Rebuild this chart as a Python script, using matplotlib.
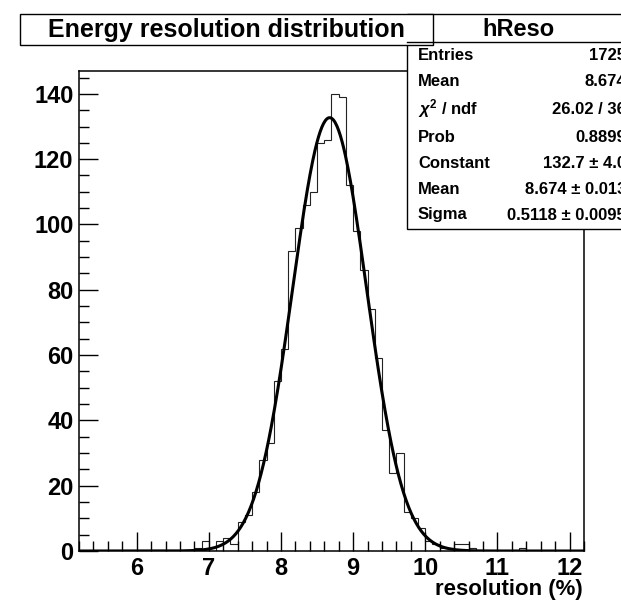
import numpy as np
import matplotlib
matplotlib.use("Agg")
import matplotlib.pyplot as plt
from matplotlib.patches import Rectangle

plt.rcParams['font.family'] = ['Liberation Sans', 'DejaVu Sans']
plt.rcParams['font.weight'] = 'bold'
plt.rcParams['mathtext.fontset'] = 'custom'
plt.rcParams['mathtext.rm'] = 'Liberation Sans:bold'
plt.rcParams['mathtext.it'] = 'Liberation Sans:italic:bold'

# histogram hReso: 70 bins of 0.1 starting at 5.2
first_edge = 5.2
bin_width = 0.1
counts = [0, 0, 0, 0, 0, 0, 0, 0, 0, 0,
          0, 0, 0, 0, 0, 0, 1, 3, 0, 3,
          4, 2, 9, 11, 18, 28, 33, 52, 62, 92,
          99, 106, 110, 125, 126, 140, 139, 112, 98, 86,
          74, 59, 37, 24, 30, 12, 10, 7, 3, 2,
          1, 1, 2, 2, 1, 0, 0, 0, 0, 0,
          0, 1, 0, 0, 0, 0, 0, 0, 0, 0]

# gaussian fit results
fit_const = 132.7
fit_mean = 8.674
fit_sigma = 0.5118

x_ticks = [6, 7, 8, 9, 10, 11, 12]
y_ticks = [0, 20, 40, 60, 80, 100, 120, 140]

stat_names = ['Entries', 'Mean', r'$\chi^{2}$ / ndf', 'Prob', 'Constant', 'Mean', 'Sigma']
stat_values = ['1725', '8.674', '26.02 / 36', '0.8899',
               '132.7 \u00b1 4.0', '8.674 \u00b1 0.013', '0.5118 \u00b1 0.0095']

W, H = 621, 602
fig = plt.figure(figsize=(W / 100, H / 100), dpi=100)

# main frame in pixels: left 79, right 584, top 71, bottom 551
ax = fig.add_axes([79 / W, 1 - 551 / H, 505 / W, 480 / H])
edges = first_edge + bin_width * np.arange(len(counts) + 1)
ax.stairs(counts, edges, color='#222222', lw=0.8)

xf = np.linspace(edges[0], edges[-1], 600)
yf = fit_const * np.exp(-0.5 * ((xf - fit_mean) / fit_sigma) ** 2)
ax.plot(xf, yf, color='black', lw=2.2)

ax.set_xlim(edges[0], edges[-1])
ax.set_ylim(0, max(counts) * 1.05)
ax.set_xticks(x_ticks)
ax.set_yticks(y_ticks)
ax.set_xticks(np.arange(5.2, 12.21, 0.2), minor=True)
ax.set_yticks(np.arange(0, 146, 5), minor=True)
ax.tick_params(which='major', direction='in', length=14, width=1.0,
               labelsize=17, top=False, right=False)
ax.tick_params(which='minor', direction='in', length=7, width=1.0,
               top=False, right=False)
ax.tick_params(axis='x', pad=4)
ax.tick_params(axis='y', pad=4)
for lab in ax.get_xticklabels() + ax.get_yticklabels():
    lab.set_fontweight('bold')
for sp in ax.spines.values():
    sp.set_linewidth(1.1)

# overlay in pixel coordinates for title, stats box and axis title
ov = fig.add_axes([0, 0, 1, 1], zorder=5)
ov.set_xlim(0, W)
ov.set_ylim(H, 0)
ov.axis('off')
ov.patch.set_visible(False)

# stats box
ov.add_patch(Rectangle((407, 14), 230, 215, facecolor='white',
                       edgecolor='black', lw=1.0))
ov.plot([407, 621], [42, 42], color='black', lw=1.0)
ov.text(518, 29, 'hReso', fontsize=17, fontweight='bold', ha='center', va='center')
row_y = [55, 82, 109, 137, 163, 190, 215]
for name, val, yy in zip(stat_names, stat_values, row_y):
    ov.text(418, yy, name, fontsize=12, fontweight='bold', ha='left', va='center')
    ov.text(626, yy, val, fontsize=12, fontweight='bold', ha='right', va='center')

# title box drawn over the stats box
ov.add_patch(Rectangle((20, 14), 413, 31, facecolor='white',
                       edgecolor='black', lw=1.0))
ov.text(226, 30, 'Energy resolution distribution', fontsize=18,
        fontweight='bold', ha='center', va='center')

ov.text(583, 590, 'resolution (%)', fontsize=16, fontweight='bold',
        ha='right', va='center')

fig.savefig('out.png', dpi=100)
